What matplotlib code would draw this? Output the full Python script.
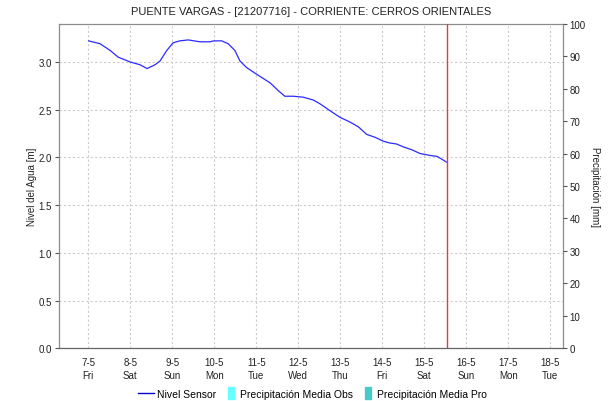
import matplotlib
matplotlib.use("Agg")
import matplotlib.pyplot as plt
from matplotlib.lines import Line2D
from matplotlib.patches import Patch, Rectangle
from matplotlib.legend_handler import HandlerPatch

plt.rcParams['font.family'] = ['Liberation Sans', 'DejaVu Sans']

# water level series (day of May, metres)
dias = [7.01, 7.28, 7.52, 7.71, 7.99, 8.23, 8.40, 8.59, 8.71, 8.87,
        9.02, 9.18, 9.38, 9.66, 9.90, 9.98, 10.18, 10.33, 10.49, 10.61,
        10.77, 11.01, 11.33, 11.52, 11.68, 11.88, 12.12, 12.36, 12.52, 12.75,
        12.99, 13.23, 13.43, 13.63, 13.83, 14.02, 14.18, 14.34, 14.50, 14.70,
        14.90, 15.14, 15.30, 15.42, 15.53]
nivel = [3.22, 3.19, 3.12, 3.05, 3.00, 2.97, 2.93, 2.97, 3.01, 3.12,
         3.20, 3.22, 3.23, 3.21, 3.21, 3.22, 3.22, 3.19, 3.12, 3.01,
         2.94, 2.87, 2.78, 2.70, 2.64, 2.64, 2.63, 2.60, 2.56, 2.49,
         2.42, 2.37, 2.32, 2.24, 2.21, 2.17, 2.15, 2.14, 2.11, 2.08,
         2.04, 2.02, 2.01, 1.98, 1.95]

ahora = 15.55  # current time marker
x_ticks = [7, 8, 9, 10, 11, 12, 13, 14, 15, 16, 17, 18]
x_labels = ['7-5\nFri', '8-5\nSat', '9-5\nSun', '10-5\nMon', '11-5\nTue', '12-5\nWed',
            '13-5\nThu', '14-5\nFri', '15-5\nSat', '16-5\nSun', '17-5\nMon', '18-5\nTue']
y_ticks = [0.0, 0.5, 1.0, 1.5, 2.0, 2.5, 3.0]
precip_ticks = list(range(0, 101, 10))

fig = plt.figure(figsize=(6.15, 4.02), dpi=100)
ax = fig.add_axes([0.0954, 0.1311, 0.8195, 0.8075])
ax2 = ax.twinx()

ax.plot(dias, nivel, color='#2b2bff', lw=0.9, zorder=3)
ax.axvline(ahora, color='#e03c3c', lw=1.0, zorder=4)

ax.set_xlim(6.295, 18.295)
ax.set_ylim(0, 3.4)
ax2.set_ylim(0, 100)

ax.set_xticks(x_ticks)
ax.set_xticklabels(x_labels, fontsize=7, color='#222222', linespacing=1.45)
ax.set_yticks(y_ticks)
ax.set_yticklabels([f'{v:.1f}' for v in y_ticks], fontsize=7, color='#222222')
ax2.set_yticks(precip_ticks)
ax2.set_yticklabels([str(v) for v in precip_ticks], fontsize=7, color='#222222')

ax.tick_params(axis='x', length=0, pad=6)
ax.tick_params(axis='y', length=3, width=0.8, color='#555555', pad=2)
ax2.tick_params(axis='y', length=3, width=0.8, color='#555555', pad=2)

ax.grid(True, color='#cccccc', linestyle=(0, (2, 2)), lw=0.8)
ax.set_axisbelow(True)

# single set of spines, drawn on the primary axes
for s in ax2.spines.values():
    s.set_visible(False)
for s in ('left', 'right', 'top'):
    ax.spines[s].set_color('#8c8c8c')
    ax.spines[s].set_linewidth(0.9)
ax.spines['bottom'].set_color('#666666')
ax.spines['bottom'].set_linewidth(0.9)
ax.spines['bottom'].set_linestyle((0, (1, 1)))

ax.set_ylabel('Nivel del Agua [m]', fontsize=7, color='#222222', labelpad=1)
ax2.set_ylabel('Precipitación [mm]', fontsize=7, color='#222222', rotation=270, labelpad=10.5)
ax.set_title('PUENTE VARGAS - [21207716] - CORRIENTE: CERROS ORIENTALES',
             fontsize=8, color='#222222', pad=7)


def narrow_patch(legend, orig_handle, xdescent, ydescent, width, height, fontsize):
    return Rectangle((-xdescent + width * 0.45, -ydescent - 1.5), width * 0.35, height + 3)


handles = [Line2D([], [], color='#0000cc', lw=1.0),
           Patch(color='#66ffff'),
           Patch(color='#48c8c8')]
labels = ['Nivel Sensor', 'Precipitación Media Obs', 'Precipitación Media Pro']
fig.legend(handles, labels, loc='center', bbox_to_anchor=(0.508, 0.018), ncol=3,
           frameon=False, fontsize=7.5, handlelength=1.5, handletextpad=0.3,
           columnspacing=0.5,
           handler_map={Patch: HandlerPatch(patch_func=narrow_patch)})

fig.savefig('out.png', dpi=100)
